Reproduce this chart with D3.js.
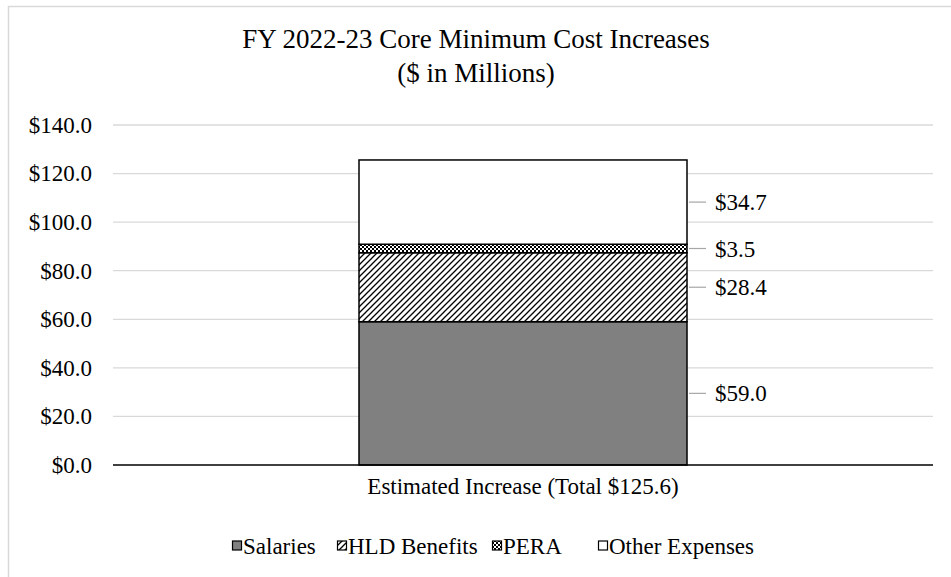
<!DOCTYPE html>
<html>
<head>
<meta charset="utf-8">
<script src="https://cdn.jsdelivr.net/npm/d3@7"></script>
<style>
  body { margin: 0; background: #fff; }
  text { font-family: "Liberation Serif", "Times New Roman", serif; fill: #000; }
</style>
</head>
<body>
<div id="chart"></div>
<script>
// chart data
const category = "Estimated Increase (Total $125.6)";
const seriesNames = ["Salaries", "HLD Benefits", "PERA", "Other Expenses"];
const seriesValues = [59.0, 28.4, 3.5, 34.7];
const yTicks = [0, 20, 40, 60, 80, 100, 120, 140];

const width = 951, height = 577;
const plot = { left: 113, right: 933, top: 125, bottom: 465 };
const labelSize = "23px";

const svg = d3.select("#chart").append("svg")
    .attr("width", width)
    .attr("height", height);

// fill patterns
const defs = svg.append("defs");
const hatch = defs.append("pattern")
    .attr("id", "hatch")
    .attr("patternUnits", "userSpaceOnUse")
    .attr("width", 6)
    .attr("height", 6);
hatch.append("rect").attr("width", 6).attr("height", 6).attr("fill", "#fff");
hatch.append("path")
    .attr("d", "M-1,1 L1,-1 M0,6 L6,0 M5,7 L7,5")
    .attr("stroke", "#000")
    .attr("stroke-width", 1.3);

const checks = defs.append("pattern")
    .attr("id", "checks")
    .attr("patternUnits", "userSpaceOnUse")
    .attr("width", 4)
    .attr("height", 4);
checks.append("rect").attr("width", 4).attr("height", 4).attr("fill", "#fff");
checks.append("rect").attr("width", 2).attr("height", 2).attr("fill", "#000");
checks.append("rect").attr("x", 2).attr("y", 2).attr("width", 2).attr("height", 2).attr("fill", "#000");

const fills = ["#808080", "url(#hatch)", "url(#checks)", "#ffffff"];

// chart border
svg.append("rect")
    .attr("x", 8.5).attr("y", 6.5)
    .attr("width", 960).attr("height", 600)
    .attr("fill", "none")
    .attr("stroke", "#d9d9d9")
    .attr("stroke-width", 1.5);

const x = d3.scaleBand()
    .domain([category])
    .range([plot.left, plot.right])
    .paddingInner(0.6)
    .paddingOuter(0.3);

const y = d3.scaleLinear()
    .domain([0, 140])
    .range([plot.bottom, plot.top]);

// gridlines
svg.append("g")
    .selectAll("line")
    .data(yTicks.filter(d => d > 0))
    .join("line")
    .attr("x1", plot.left).attr("x2", plot.right)
    .attr("y1", d => y(d)).attr("y2", d => y(d))
    .attr("stroke", "#d9d9d9")
    .attr("stroke-width", 1.3);

// y axis labels
const yAxis = svg.append("g")
    .attr("transform", `translate(${plot.left},0)`)
    .call(d3.axisLeft(y).tickValues(yTicks).tickSize(0).tickPadding(21)
        .tickFormat(d => "$" + d3.format(".1f")(d)));
yAxis.select(".domain").remove();
yAxis.selectAll("text")
    .style("font-family", '"Liberation Serif", "Times New Roman", serif')
    .style("font-size", labelSize)
    .attr("fill", "#000");

// stacked segments
const stacked = [];
let acc = 0;
seriesValues.forEach((v, i) => {
    stacked.push({ name: seriesNames[i], value: v, y0: acc, y1: acc + v, fill: fills[i] });
    acc += v;
});

const bx = x(category), bw = x.bandwidth();
svg.append("g")
    .selectAll("rect")
    .data(stacked)
    .join("rect")
    .attr("x", bx)
    .attr("y", d => y(d.y1))
    .attr("width", bw)
    .attr("height", d => y(d.y0) - y(d.y1))
    .attr("fill", d => d.fill)
    .attr("stroke", "#000")
    .attr("stroke-width", 1.5);

// value labels with leader lines
const lab = svg.append("g");
lab.selectAll("line")
    .data(stacked)
    .join("line")
    .attr("x1", bx + bw + 2).attr("x2", bx + bw + 19)
    .attr("y1", d => y((d.y0 + d.y1) / 2)).attr("y2", d => y((d.y0 + d.y1) / 2))
    .attr("stroke", "#a6a6a6")
    .attr("stroke-width", 1.2);
lab.selectAll("text")
    .data(stacked)
    .join("text")
    .attr("x", bx + bw + 28)
    .attr("y", d => y((d.y0 + d.y1) / 2))
    .attr("dy", "0.35em")
    .style("font-size", labelSize)
    .text(d => "$" + d3.format(".1f")(d.value));

// baseline
svg.append("line")
    .attr("x1", plot.left).attr("x2", plot.right)
    .attr("y1", y(0)).attr("y2", y(0))
    .attr("stroke", "#000")
    .attr("stroke-width", 1.5);

// category label
svg.append("text")
    .attr("x", bx + bw / 2)
    .attr("y", 494)
    .attr("text-anchor", "middle")
    .style("font-size", labelSize)
    .text(category);

// title
const title = svg.append("text")
    .attr("text-anchor", "middle")
    .style("font-size", "27px");
title.append("tspan").attr("x", 476).attr("y", 48).text("FY 2022-23 Core Minimum Cost Increases");
title.append("tspan").attr("x", 476).attr("y", 82).text("($ in Millions)");

// legend
const legendX = [232, 337, 492, 598];
const legend = svg.append("g")
    .selectAll("g")
    .data(stacked)
    .join("g")
    .attr("transform", (d, i) => `translate(${legendX[i]},546)`);
legend.append("rect")
    .attr("x", 0.5).attr("y", -5)
    .attr("width", 9).attr("height", 9)
    .attr("fill", d => d.fill)
    .attr("stroke", "#000")
    .attr("stroke-width", 1.2);
legend.append("text")
    .attr("x", 11)
    .attr("y", 0)
    .attr("dy", "0.35em")
    .style("font-size", labelSize)
    .text(d => d.name);
</script>
</body>
</html>
